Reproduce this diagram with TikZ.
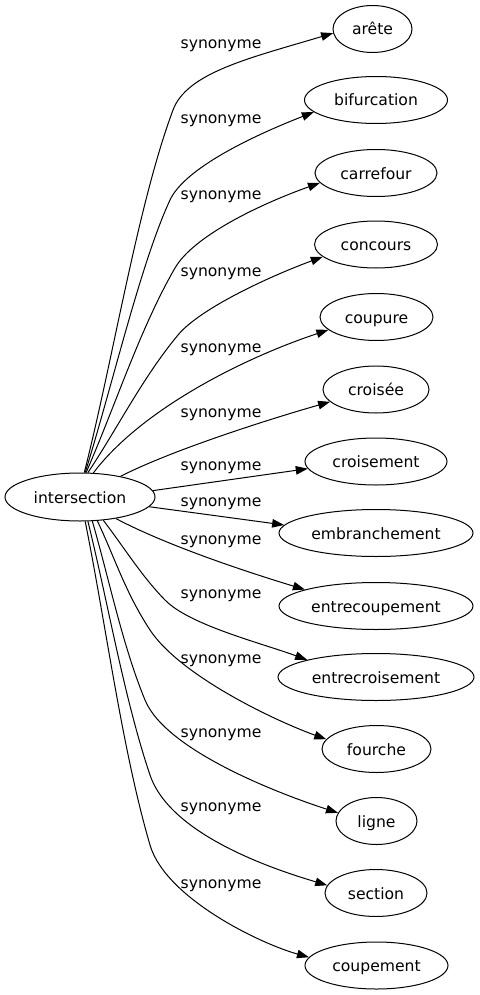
\documentclass[tikz,border=0pt]{standalone}
\usepackage{fontspec}
\setmainfont{DejaVu Sans}
\usetikzlibrary{arrows.meta,shapes.geometric}
\begin{document}
\begin{tikzpicture}[x=1pt,y=-1pt,
  every node/.style={font=\fontsize{15.6pt}{18pt}\selectfont},
  tgt/.style={ellipse, draw, line width=1pt, inner sep=0pt, minimum height=47pt, text height=12pt, text depth=0pt},
  lbl/.style={anchor=base, inner sep=0pt},
  syn/.style={line width=1pt, -{Triangle[length=12pt,width=8.5pt]}}]
\useasboundingbox (0,0) rectangle (479,995);
\node[tgt, minimum width=150pt, minimum height=48pt] (src) at (80,497) {intersection};
\node[tgt, minimum width=79pt]  (n1)  at (372.5,29)   {arête};
\node[tgt, minimum width=143pt] (n2)  at (376,100)    {bifurcation};
\node[tgt, minimum width=122pt] (n3)  at (376,173)    {carrefour};
\node[tgt, minimum width=123pt] (n4)  at (376,244.5)  {concours};
\node[tgt, minimum width=113pt] (n5)  at (376.5,317)  {coupure};
\node[tgt, minimum width=106pt] (n6)  at (376,389.5)  {croisée};
\node[tgt, minimum width=142pt] (n7)  at (376,461.5)  {croisement};
\node[tgt, minimum width=194pt] (n8)  at (376,533)    {embranchement};
\node[tgt, minimum width=194pt] (n9)  at (376,606)    {entrecoupement};
\node[tgt, minimum width=196pt] (n10) at (376,677)    {entrecroisement};
\node[tgt, minimum width=109pt] (n11) at (376.5,749)  {fourche};
\node[tgt, minimum width=81pt]  (n12) at (376.5,821)  {ligne};
\node[tgt, minimum width=102pt] (n13) at (376,893)    {section};
\node[tgt, minimum width=143pt] (n14) at (376.5,965.5) {coupement};
% labels
\node[lbl] (l1)  at (221,49)  {synonyme};
\node[lbl] (l2)  at (221,124) {synonyme};
\node[lbl] (l3)  at (221,200) {synonyme};
\node[lbl] (l4)  at (221,276) {synonyme};
\node[lbl] (l5)  at (221,352) {synonyme};
\node[lbl] (l6)  at (221,417) {synonyme};
\node[lbl] (l7)  at (221,470) {synonyme};
\node[lbl] (l8)  at (221,506) {synonyme};
\node[lbl] (l9)  at (221,544) {synonyme};
\node[lbl] (l10) at (221,598) {synonyme};
\node[lbl] (l11) at (221,663) {synonyme};
\node[lbl] (l12) at (221,737) {synonyme};
\node[lbl] (l13) at (221,811) {synonyme};
\node[lbl] (l14) at (221,888) {synonyme};
% edges
\draw[syn] (src.80) .. controls (113.6,356.7) and (138,203.7) .. (173,110) .. controls (187,72.5) and (250,58) .. (n1.186);
\draw[syn] (src.78) .. controls (113.2,382.3) and (140.6,263.5) .. (170,200) .. controls (184.7,168.3) and (252.5,136) .. (n2.191);
\draw[syn] (src.76) .. controls (115.9,404.2) and (140,328.6) .. (175,268) .. controls (194,235.1) and (263.6,202.8) .. (n3.190);
\draw[syn] (src.72) .. controls (118,427.4) and (142.8,377.4) .. (178,335) .. controls (200.4,308) and (271.3,275.7) .. (n4.193);
\draw[syn] (src.61) .. controls (141,410) and (241.5,358.8) .. (n5.195);
\draw[syn] (src.27) .. controls (172,450) and (270.4,418.8) .. (n6.195);
\draw[syn] (src.5) -- (n7.186);
\draw[syn] (src.-8) -- (n8.175);
\draw[syn] (src.-31) .. controls (168,546) and (247,572) .. (n9.167);
\draw[syn] (src.-45) .. controls (123.8,546.9) and (141.2,575.7) .. (165,600) .. controls (189.5,625) and (259.5,642.5) .. (n10.166);
\draw[syn] (src.-54) .. controls (114.5,557) and (125.3,592.4) .. (150,630) .. controls (180.3,675.9) and (275.3,720.9) .. (n11.169);
\draw[syn] (src.-63) .. controls (109,578.5) and (122.2,644.5) .. (145,700) .. controls (165.9,750.9) and (281,794.4) .. (n12.168);
\draw[syn] (src.-72) .. controls (108.1,603.5) and (124.4,699.2) .. (150,775) .. controls (170.8,836.6) and (279.5,871) .. (n13.171);
\draw[syn] (src.-78) .. controls (106.7,628.9) and (122,749) .. (150,845) .. controls (165.4,897.8) and (259.5,943.5) .. (n14.173);
\end{tikzpicture}
\end{document}
